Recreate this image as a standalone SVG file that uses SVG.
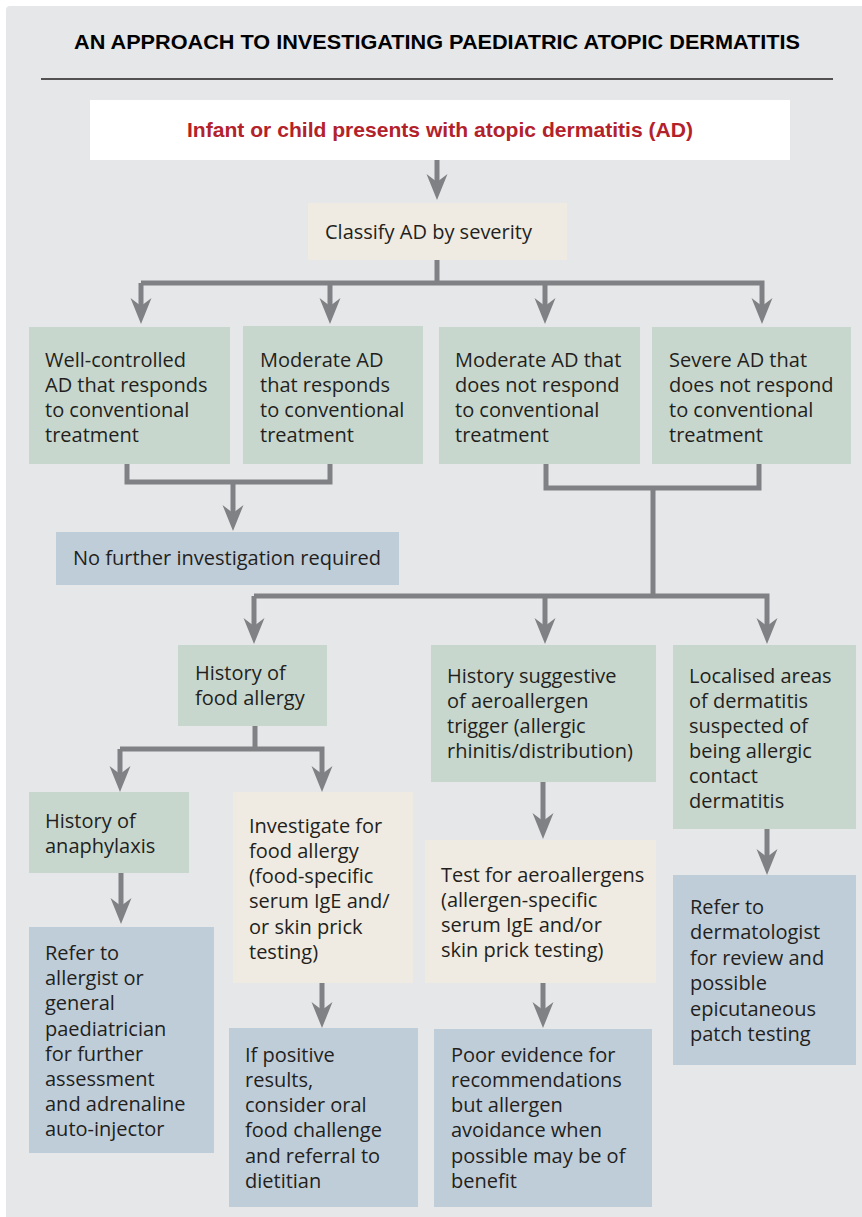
<svg xmlns="http://www.w3.org/2000/svg" width="862" height="1217" viewBox="0 0 862 1217">
<style>
.t{font-family:"Open Sans","Liberation Sans",sans-serif;font-size:20px;fill:#231f20}
.g{fill:#c8d7ce}
.b{fill:#efebe2}
.u{fill:#bfcdd9}
.c{fill:none;stroke:#808184;stroke-width:5;marker-end:url(#ah)}
.cn{fill:none;stroke:#808184;stroke-width:5}
</style>
<defs>
<marker id="ah" markerUnits="userSpaceOnUse" viewBox="0 -10.5 26 21" refX="8" refY="0" markerWidth="26" markerHeight="21" orient="auto" overflow="visible">
<path d="M0,-10.5 L26,0 L0,10.5 L8,0 Z" fill="#808184"/>
</marker>
</defs>
<rect x="0" y="0" width="862" height="1217" fill="#ffffff"/>
<rect x="6" y="6" width="866" height="1220" rx="4" fill="#e6e7e9"/>
<text x="437" y="49" text-anchor="middle" font-family="Liberation Sans,sans-serif" font-weight="bold" font-size="21" fill="#000" textLength="726" lengthAdjust="spacingAndGlyphs">AN APPROACH TO INVESTIGATING PAEDIATRIC ATOPIC DERMATITIS</text>
<line x1="41" y1="79" x2="833" y2="79" stroke="#231f20" stroke-width="1.5"/>

<g id="connectors">
<path class="c" d="M437,160 V182"/>
<path class="cn" d="M437,260 V283"/>
<path class="c" d="M141,283 H762 V306"/>
<path class="c" d="M141,283 V306"/>
<path class="c" d="M330,283 V306"/>
<path class="c" d="M545,283 V306"/>
<path class="cn" d="M127,464 V482 H330 V464"/>
<path class="c" d="M233,482 V513"/>
<path class="cn" d="M546,464 V488 H759 V464"/>
<path class="cn" d="M653,488 V596"/>
<path class="c" d="M254,596 H767 V626"/>
<path class="c" d="M254,596 V626"/>
<path class="c" d="M545,596 V626"/>
<path class="cn" d="M255,726 V749"/>
<path class="c" d="M120,749 H322 V774"/>
<path class="c" d="M120,749 V774"/>
<path class="c" d="M121,873 V906"/>
<path class="c" d="M322,983 V1010"/>
<path class="c" d="M543,782 V821"/>
<path class="c" d="M543,983 V1010"/>
<path class="c" d="M767,829 V857"/>
</g>

<g id="start">
<rect x="90" y="100" width="700" height="60" fill="#ffffff"/>
<text x="440" y="137" text-anchor="middle" font-family="Liberation Sans,sans-serif" font-weight="bold" font-size="20.5" fill="#b3222b" textLength="506" lengthAdjust="spacingAndGlyphs">Infant or child presents with atopic dermatitis (AD)</text>
</g>

<g id="classify">
<rect class="b" x="308" y="203" width="259" height="57"/>
<text class="t" x="325" y="239">Classify AD by severity</text>
</g>

<g id="well-controlled">
<rect class="g" x="29" y="327" width="201" height="137"/>
<text class="t"><tspan x="45" y="367">Well-controlled</tspan><tspan x="45" y="392">AD that responds</tspan><tspan x="45" y="417">to conventional</tspan><tspan x="45" y="442">treatment</tspan></text>
</g>

<g id="moderate-responds">
<rect class="g" x="243" y="326" width="180" height="138"/>
<text class="t"><tspan x="260" y="367">Moderate AD</tspan><tspan x="260" y="392">that responds</tspan><tspan x="260" y="417">to conventional</tspan><tspan x="260" y="442">treatment</tspan></text>
</g>

<g id="moderate-not-respond">
<rect class="g" x="439" y="327" width="201" height="137"/>
<text class="t"><tspan x="455" y="367">Moderate AD that</tspan><tspan x="455" y="392">does not respond</tspan><tspan x="455" y="417">to conventional</tspan><tspan x="455" y="442">treatment</tspan></text>
</g>

<g id="severe">
<rect class="g" x="652" y="327" width="199" height="137"/>
<text class="t"><tspan x="669" y="367">Severe AD that</tspan><tspan x="669" y="392">does not respond</tspan><tspan x="669" y="417">to conventional</tspan><tspan x="669" y="442">treatment</tspan></text>
</g>

<g id="no-further">
<rect class="u" x="56" y="532" width="343" height="53"/>
<text class="t" x="73" y="565">No further investigation required</text>
</g>

<g id="food-allergy">
<rect class="g" x="178" y="645" width="149" height="81"/>
<text class="t"><tspan x="195" y="680">History of</tspan><tspan x="195" y="705">food allergy</tspan></text>
</g>

<g id="aeroallergen-history">
<rect class="g" x="431" y="645" width="225" height="137"/>
<text class="t"><tspan x="447" y="683">History suggestive</tspan><tspan x="447" y="708">of aeroallergen</tspan><tspan x="447" y="733">trigger (allergic</tspan><tspan x="447" y="758">rhinitis/distribution)</tspan></text>
</g>

<g id="localised">
<rect class="g" x="673" y="645" width="183" height="184"/>
<text class="t"><tspan x="689" y="683">Localised areas</tspan><tspan x="689" y="708">of dermatitis</tspan><tspan x="689" y="733">suspected of</tspan><tspan x="689" y="758">being allergic</tspan><tspan x="689" y="783">contact</tspan><tspan x="689" y="808">dermatitis</tspan></text>
</g>

<g id="anaphylaxis">
<rect class="g" x="29" y="792" width="160" height="81"/>
<text class="t"><tspan x="45" y="828">History of</tspan><tspan x="45" y="853">anaphylaxis</tspan></text>
</g>

<g id="investigate-food">
<rect class="b" x="233" y="792" width="180" height="191"/>
<text class="t"><tspan x="249" y="833">Investigate for</tspan><tspan x="249" y="858">food allergy</tspan><tspan x="249" y="883">(food-specific</tspan><tspan x="249" y="908">serum IgE and/</tspan><tspan x="249" y="934">or skin prick</tspan><tspan x="249" y="959">testing)</tspan></text>
</g>

<g id="test-aeroallergens">
<rect class="b" x="425" y="840" width="231" height="143"/>
<text class="t"><tspan x="441" y="882">Test for aeroallergens</tspan><tspan x="441" y="907">(allergen-specific</tspan><tspan x="441" y="932">serum IgE and/or</tspan><tspan x="441" y="957">skin prick testing)</tspan></text>
</g>

<g id="refer-allergist">
<rect class="u" x="29" y="927" width="185" height="226"/>
<text class="t"><tspan x="45" y="960">Refer to</tspan><tspan x="45" y="985">allergist or</tspan><tspan x="45" y="1010">general</tspan><tspan x="45" y="1036">paediatrician</tspan><tspan x="45" y="1061">for further</tspan><tspan x="45" y="1086">assessment</tspan><tspan x="45" y="1111">and adrenaline</tspan><tspan x="45" y="1136">auto-injector</tspan></text>
</g>

<g id="if-positive">
<rect class="u" x="229" y="1028" width="189" height="179"/>
<text class="t"><tspan x="245" y="1062">If positive</tspan><tspan x="245" y="1087">results,</tspan><tspan x="245" y="1112">consider oral</tspan><tspan x="245" y="1137">food challenge</tspan><tspan x="245" y="1163">and referral to</tspan><tspan x="245" y="1188">dietitian</tspan></text>
</g>

<g id="poor-evidence">
<rect class="u" x="434" y="1029" width="218" height="178"/>
<text class="t"><tspan x="451" y="1062">Poor evidence for</tspan><tspan x="451" y="1087">recommendations</tspan><tspan x="451" y="1112">but allergen</tspan><tspan x="451" y="1137">avoidance when</tspan><tspan x="451" y="1163">possible may be of</tspan><tspan x="451" y="1188">benefit</tspan></text>
</g>

<g id="refer-dermatologist">
<rect class="u" x="673" y="875" width="183" height="190"/>
<text class="t"><tspan x="690" y="914">Refer to</tspan><tspan x="690" y="939">dermatologist</tspan><tspan x="690" y="965">for review and</tspan><tspan x="690" y="990">possible</tspan><tspan x="690" y="1016">epicutaneous</tspan><tspan x="690" y="1041">patch testing</tspan></text>
</g>
</svg>
